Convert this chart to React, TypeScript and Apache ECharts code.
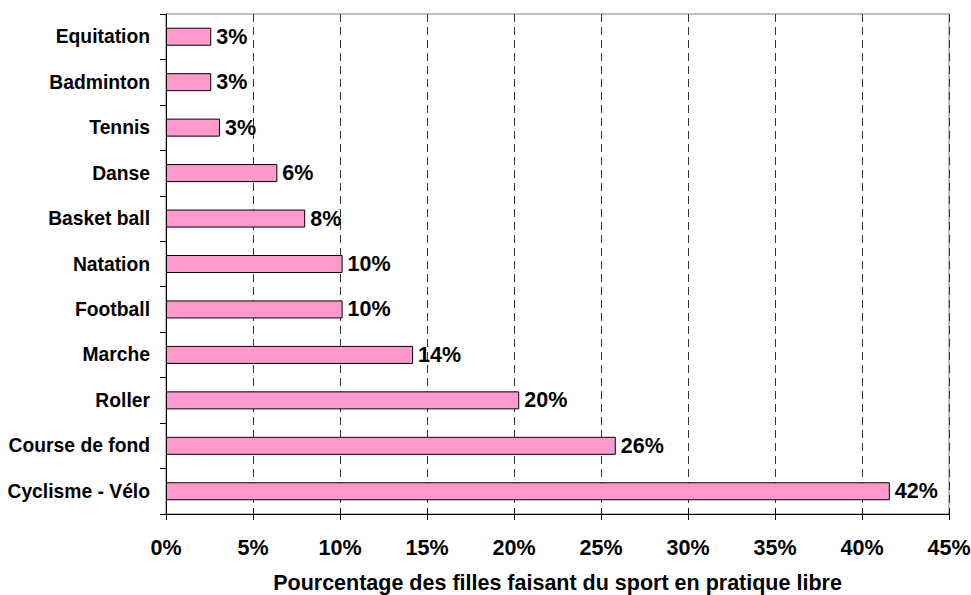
import React, { useEffect, useRef } from "react";
import * as echarts from "echarts";

const categories = [
  "Equitation",
  "Badminton",
  "Tennis",
  "Danse",
  "Basket ball",
  "Natation",
  "Football",
  "Marche",
  "Roller",
  "Course de fond",
  "Cyclisme - Vélo",
];
const values = [2.6, 2.6, 3.1, 6.4, 8.0, 10.15, 10.15, 14.2, 20.3, 25.85, 41.6];
const axisTitle = "Pourcentage des filles faisant du sport en pratique libre";
const xMin = 0;
const xMax = 45;
const xStep = 5;

const FONT = "'Liberation Sans', Arial, Helvetica, sans-serif";

export default function App() {
  const ref = useRef<HTMLDivElement>(null);
  useEffect(() => {
    if (!ref.current) return;
    const chart = echarts.init(ref.current, undefined, { renderer: "svg" });
    const grid = { left: 166, top: 14, width: 783, height: 500 };
    chart.setOption({
      animation: false,
      backgroundColor: "#ffffff",
      grid: {
        ...grid,
        containLabel: false,
        outerBoundsMode: "none",
        show: true,
        borderColor: "#808080",
        borderWidth: 1,
        backgroundColor: "transparent",
      },
      xAxis: [
        {
          type: "value",
          min: xMin,
          max: xMax,
          interval: xStep,
          position: "bottom",
          axisLine: { show: true, onZero: false, lineStyle: { color: "#000", width: 1 } },
          axisTick: { show: true, inside: false, length: 6, lineStyle: { color: "#000" } },
          axisLabel: {
            formatter: "{value}%",
            margin: 23,
            fontFamily: FONT,
            fontWeight: "bold",
            fontSize: 21.5,
            color: "#000",
          },
          splitLine: { show: true, lineStyle: { color: "#333", type: [8, 5], width: 1 } },
          name: axisTitle,
          nameLocation: "middle",
          nameGap: 58,
          nameTextStyle: { fontFamily: FONT, fontWeight: "bold", fontSize: 21.5, lineHeight: 22, color: "#000" },
        },
        {
          type: "value",
          min: xMin,
          max: xMax,
          interval: xStep,
          position: "bottom",
          axisLine: { show: false },
          axisTick: { show: true, inside: true, length: 6, lineStyle: { color: "#000" } },
          axisLabel: { show: false },
          splitLine: { show: false },
        },
      ],
      yAxis: {
        type: "category",
        data: categories,
        inverse: true,
        axisLine: { show: true, lineStyle: { color: "#000", width: 1 } },
        axisTick: { show: true, length: 6, alignWithLabel: false, lineStyle: { color: "#000" } },
        axisLabel: {
          margin: 16,
          fontFamily: FONT,
          fontWeight: "bold",
          fontSize: 19.3,
          color: "#000",
        },
        splitLine: { show: false },
      },
      series: [
        {
          type: "bar",
          data: values,
          xAxisIndex: 0,
          barWidth: 18,
          itemStyle: { color: "#FF99CC", borderColor: "#000", borderWidth: 1 },
          label: {
            show: true,
            position: "right",
            distance: 5,
            formatter: (p: any) => Math.round(p.value) + "%",
            fontFamily: FONT,
            fontWeight: "bold",
            fontSize: 21.5,
            color: "#000",
          },
        },
      ],
    });
    return () => chart.dispose();
  }, []);
  return (
    <div
      ref={ref}
      style={{ position: "fixed", left: 0, top: 0, width: 971, height: 595, background: "#fff" }}
    />
  );
}
